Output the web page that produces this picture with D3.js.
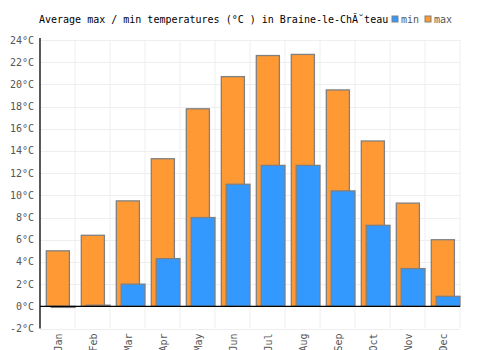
<!DOCTYPE html>
<html>
<head>
<meta charset="utf-8">
<script src="https://cdn.jsdelivr.net/npm/d3@7"></script>
<style>
  body { margin: 0; background: #fff; }
  text { font-family: "DejaVu Sans Mono", monospace; }
</style>
</head>
<body>
<svg id="chart" width="500" height="350"></svg>
<script>
const months = ["Jan", "Feb", "Mar", "Apr", "May", "Jun", "Jul", "Aug", "Sep", "Oct", "Nov", "Dec"];
const maxTemps = [5.0, 6.4, 9.5, 13.3, 17.8, 20.7, 22.6, 22.7, 19.5, 14.9, 9.3, 6.0];
const minTemps = [-0.1, 0.1, 2.0, 4.3, 8.0, 11.0, 12.7, 12.7, 10.4, 7.3, 3.4, 0.9];
const yTicks = [-2, 0, 2, 4, 6, 8, 10, 12, 14, 16, 18, 20, 22, 24];

const margin = {top: 40, right: 40, bottom: 21, left: 40},
    width = 500 - margin.left - margin.right,
    height = 350 - margin.top - margin.bottom;

const maxColor = "#ff9933",
    minColor = "#3399ff",
    strokeColor = "#808080";

const svg = d3.select("#chart");

const x = d3.scaleBand()
    .domain(months)
    .range([margin.left, margin.left + width])
    .padding(0);

const y = d3.scaleLinear()
    .domain([-2, 24])
    .range([margin.top + height - 0.5, margin.top]);

// grid
const grid = svg.append("g").attr("class", "grid");

grid.selectAll("line.h")
    .data(yTicks)
    .enter().append("line")
    .attr("class", "h")
    .attr("x1", margin.left)
    .attr("x2", margin.left + width)
    .attr("y1", d => Math.round(y(d)) + 0.5)
    .attr("y2", d => Math.round(y(d)) + 0.5)
    .style("stroke", "#eeeeee");

grid.selectAll("line.v")
    .data(months.slice(1).concat(["end"]))
    .enter().append("line")
    .attr("class", "v")
    .attr("x1", d => d === "end" ? margin.left + width : x(d))
    .attr("x2", d => d === "end" ? margin.left + width : x(d))
    .attr("y1", margin.top)
    .attr("y2", y(-2))
    .style("stroke", "#eeeeee");

const bw = x.bandwidth();

// max bars
svg.append("g").selectAll("rect")
    .data(months.map((m, i) => ({month: m, value: maxTemps[i]})))
    .enter().append("rect")
    .attr("x", d => x(d.month) + bw * 0.18)
    .attr("width", bw * 0.66)
    .attr("y", d => y(Math.max(0, d.value)))
    .attr("height", d => Math.abs(y(d.value) - y(0)))
    .style("fill", maxColor)
    .style("stroke", strokeColor)
    .style("stroke-width", 1.3);

// min bars
svg.append("g").selectAll("rect")
    .data(months.map((m, i) => ({month: m, value: minTemps[i]})))
    .enter().append("rect")
    .attr("x", d => x(d.month) + bw * 0.32)
    .attr("width", bw * 0.68)
    .attr("y", d => y(Math.max(0, d.value)))
    .attr("height", d => Math.abs(y(d.value) - y(0)))
    .style("fill", minColor)
    .style("stroke", strokeColor)
    .style("stroke-width", 1.3);

// axes
svg.append("line")
    .attr("x1", margin.left)
    .attr("x2", margin.left + width)
    .attr("y1", y(0))
    .attr("y2", y(0))
    .style("stroke", "#000")
    .style("stroke-width", 1.3);

svg.append("line")
    .attr("x1", margin.left)
    .attr("x2", margin.left)
    .attr("y1", margin.top - 2)
    .attr("y2", y(-2))
    .style("stroke", "#000")
    .style("stroke-width", 1.3);

svg.append("g").selectAll("text")
    .data(yTicks)
    .enter().append("text")
    .attr("x", margin.left - 6)
    .attr("y", d => y(d))
    .attr("dy", "0.35em")
    .attr("text-anchor", "end")
    .style("font-size", "10px")
    .style("fill", "#555")
    .text(d => d + "°C");

svg.append("g").selectAll("text")
    .data(months)
    .enter().append("text")
    .attr("transform", d => `translate(${x(d) + bw / 2 + 1}, ${y(-2) + 5}) rotate(-90)`)
    .attr("dy", "0.35em")
    .attr("text-anchor", "end")
    .style("font-size", "10px")
    .style("fill", "#555")
    .text(d => d);

// title
svg.append("text")
    .attr("x", 39)
    .attr("y", 23)
    .style("font-size", "10px")
    .style("fill", "#000")
    .text("Average max / min temperatures (°C ) in Braine-le-ChĂ˘teau");

// legend
const legend = [{label: "min", color: minColor, x: 392}, {label: "max", color: maxColor, x: 425}];
const lg = svg.append("g").selectAll("g")
    .data(legend)
    .enter().append("g")
    .attr("transform", d => `translate(${d.x}, 16)`);

lg.append("rect")
    .attr("width", 6)
    .attr("height", 6)
    .style("fill", d => d.color)
    .style("stroke", strokeColor)
    .style("stroke-width", 1);

lg.append("text")
    .attr("x", 9)
    .attr("y", 7)
    .style("font-size", "10px")
    .style("fill", "#555")
    .text(d => d.label);
</script>
</body>
</html>
